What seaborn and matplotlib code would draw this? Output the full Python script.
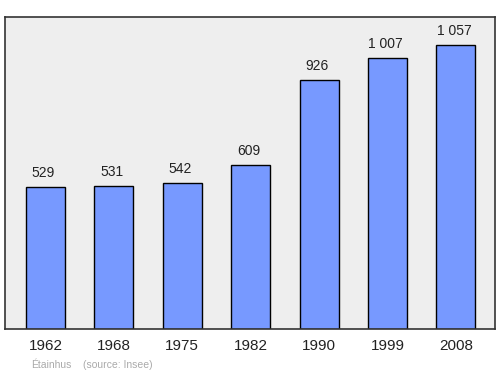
import matplotlib
matplotlib.use("Agg")
import matplotlib.pyplot as plt
import seaborn as sns
import pandas as pd

years = ["1962", "1968", "1975", "1982", "1990", "1999", "2008"]
population = [529, 531, 542, 609, 926, 1007, 1057]
value_labels = ["529", "531", "542", "609", "926", "1 007", "1 057"]
place = "Étainhus"
source = "(source: Insee)"

df = pd.DataFrame({"year": years, "pop": population})

sns.set_theme(style="white")
plt.rcParams['font.family'] = ['Liberation Sans', 'DejaVu Sans']

fig = plt.figure(figsize=(5, 3.74), dpi=100)
ax = fig.add_axes([0.010, 1 - 329 / 374, 0.980, 312 / 374])
ax.set_facecolor("#eeeeee")

sns.barplot(data=df, x="year", y="pop", ax=ax, color="#7799ff",
            saturation=1, width=0.57, edgecolor="black", linewidth=1)

ax.set_xlim(-0.59, 6.57)
ax.set_ylim(0, 1161)
for i, (v, lab) in enumerate(zip(population, value_labels)):
    ax.annotate(lab, (i, v), xytext=(-1.5, 5), textcoords="offset points",
                ha="center", va="bottom", fontsize=10, color="#222222")

ax.set_xlabel("")
ax.set_ylabel("")
ax.set_yticks([])
ax.tick_params(axis="x", length=0, labelsize=11, pad=7, colors="#222222")
for s in ax.spines.values():
    s.set_visible(True)
    s.set_color("#333333")
    s.set_linewidth(1.2)

fig.text(31 / 500, 1 - 365 / 374, place, fontsize=7.5, color="#aaaaaa", va="center")
fig.text(83 / 500, 1 - 365 / 374, source, fontsize=7.5, color="#aaaaaa", va="center")

fig.savefig("out.png", dpi=100, facecolor="white")
